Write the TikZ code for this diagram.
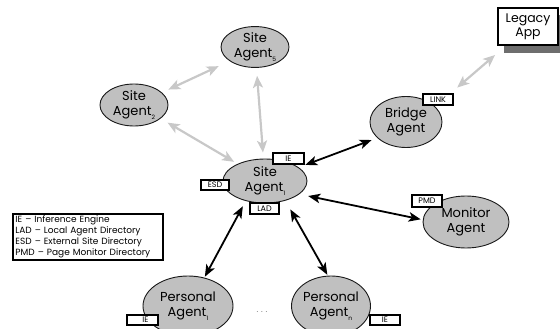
\documentclass[tikz,border=0pt]{standalone}
\usepackage{fontspec}
\setmainfont{Poppins}
\usetikzlibrary{arrows.meta,shapes.geometric}
\definecolor{agentgray}{RGB}{192,192,192}
\definecolor{linkgray}{RGB}{200,200,200}
\definecolor{boxshadow}{RGB}{110,110,110}
\newcommand\agsub[1]{\raisebox{-3.5pt}{\fontsize{6}{6}\selectfont #1}}
\begin{document}
\begin{tikzpicture}[x=1pt,y=-1pt,
  agent/.style={ellipse, draw=black!90, line width=0.9pt, fill=agentgray,
    inner sep=0pt, align=center, font=\fontsize{13}{15.5}\selectfont},
  tag/.style={draw=black, line width=1.7pt, fill=white, inner sep=0pt,
    minimum width=29pt, minimum height=10pt, font=\fontsize{8}{8}\selectfont},
  legacybox/.style={draw=black, line width=1.7pt, fill=white, inner sep=0pt,
    minimum width=60pt, minimum height=37pt, align=center,
    font=\fontsize{12.5}{14}\selectfont},
  legendbox/.style={draw=black, line width=1.7pt, fill=white, inner xsep=2.5pt,
    inner ysep=1.5pt, text width=145pt, align=left,
    font=\fontsize{9}{11}\selectfont},
  glink/.style={draw=linkgray, line width=2.2pt,
    {Stealth[length=12pt,width=10pt,inset=3pt]}-{Stealth[length=12pt,width=10pt,inset=3pt]}},
  blink/.style={draw=black, line width=1.8pt,
    {Stealth[length=12pt,width=9.5pt,inset=3pt]}-{Stealth[length=12pt,width=9.5pt,inset=3pt]}}
]
\useasboundingbox (0,0) rectangle (560,329);

% agents
\node[agent, minimum width=68pt, minimum height=40pt] (s5) at (255,47) {Site\\Agent\agsub{5}};
\node[agent, minimum width=68pt, minimum height=42pt] (s2) at (134,105) {Site\\Agent\agsub{2}};
\node[agent, minimum width=84pt, minimum height=44pt] (s1) at (265,181) {Site\\Agent\agsub{1}};
\node[agent, minimum width=72pt, minimum height=51pt] (br) at (406,122) {Bridge\\Agent};
\node[agent, minimum width=86pt, minimum height=52pt] (mon) at (466,222) {Monitor\\Agent};
\node[agent, minimum width=90pt, minimum height=60pt] (p1) at (188,306) {Personal\\Agent\agsub{1}};
\node[agent, minimum width=74pt, minimum height=60pt] (pn) at (331,306) {Personal\\Agent\agsub{n}};

% legacy application with a grey shadow strip along its lower and right edges
\node[legacybox] (la) at (528,26.5) {Legacy\\App};
\fill[boxshadow] (504,46) rectangle (562,53);
\fill[boxshadow] (559,15) rectangle (562,53);

% component tags
\node[tag, minimum width=31pt, minimum height=11pt] (tie) at (288.5,158.5) {IE};
\node[tag, minimum width=28pt] (tesd) at (215,185) {ESD};
\node[tag, minimum height=11pt] (tlad) at (264.5,208.5) {LAD};
\node[tag, minimum width=30pt, minimum height=11pt] (tlink) at (438,99.5) {LINK};
\node[tag, minimum width=30pt, minimum height=12pt] (tpmd) at (427,201) {PMD};
\node[tag, minimum width=31pt] (tiep1) at (142.5,320) {\hspace*{6pt}IE};
\node[tag, minimum width=30pt] (tiepn) at (385,320) {IE};

% legend
\node[legendbox] (lg) at (88,237) {IE -- Inference Engine\\LAD -- Local Agent Directory\\ESD -- External Site Directory\\PMD -- Page Monitor Directory};

\node[text=black!60, font=\fontsize{8}{8}\selectfont] (dots) at (262,312) {. . .};

% links between site agents and to the legacy application
\draw[glink, shorten <=7pt, shorten >=12pt] (s2.24) -- (s5.209);
\draw[glink, shorten <=8pt, shorten >=4pt] (s2.-27) -- (s1.148);
\draw[glink, shorten <=8pt, shorten >=6pt] (s5.-86) -- (s1.94);
\draw[glink, shorten <=29pt, shorten >=14pt] (br.28) -- (la.221);

% links from the central site agent
\draw[blink, shorten <=7pt, shorten >=6pt] (s1.22) -- (br.209);
\draw[blink, shorten <=9pt, shorten >=2pt] (s1.-21) -- (mon.177);
\draw[blink, shorten <=6pt, shorten >=1pt] (s1.226) -- (p1.60);
\draw[blink, shorten <=10pt, shorten >=1pt] (s1.-44) -- (pn.96);
\end{tikzpicture}
\end{document}
